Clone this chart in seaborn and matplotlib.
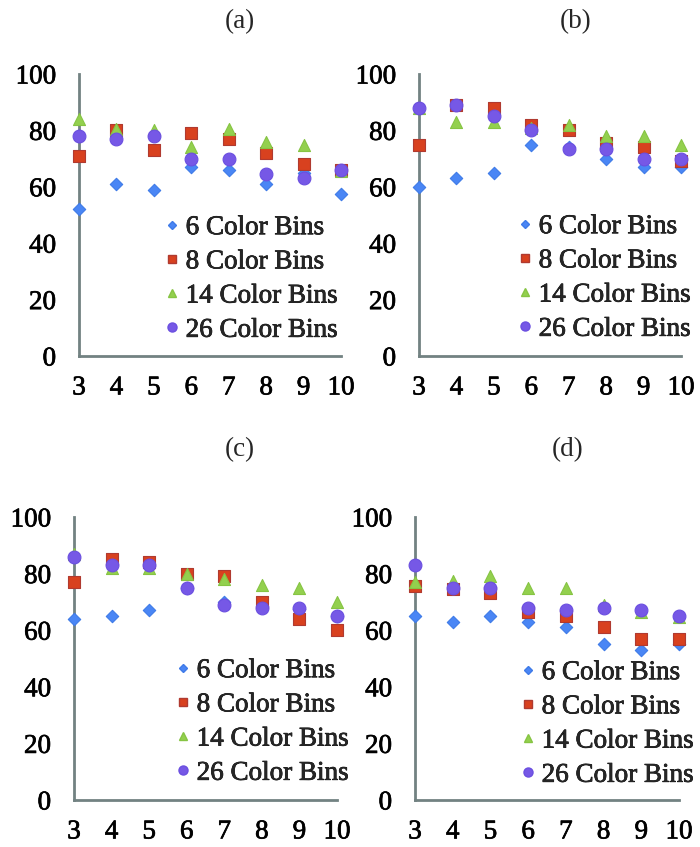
import matplotlib
matplotlib.use("Agg")
import matplotlib.pyplot as plt
from matplotlib.lines import Line2D
import matplotlib.patheffects as pe
import numpy as np
import pandas as pd
import seaborn as sns

# ---------------- data ----------------
x_vals = [3, 4, 5, 6, 7, 8, 9, 10]
series_labels = ["6 Color Bins", "8 Color Bins", "14 Color Bins", "26 Color Bins"]
panel_titles = ["(a)", "(b)", "(c)", "(d)"]
y_ticks = [0, 20, 40, 60, 80, 100]

a_6 = [52, 61, 59, 67, 66, 61, 65, 57.5]
a_8 = [71, 80, 73, 79, 77, 72, 68, 66]
a_14 = [84, 80.5, 80, 74, 80.5, 76, 75, 65.5]
a_26 = [78, 77, 78, 70, 70, 64.5, 63, 66]

b_6 = [60, 63, 65, 75, 74, 70, 67, 67]
b_8 = [75, 89, 88, 82, 80, 75.5, 74, 69]
b_14 = [88, 83, 83, 81, 82, 78, 78, 75]
b_26 = [88, 89, 85, 80, 73.5, 73.5, 70, 70]

c_6 = [64, 65, 67, 75, 70, 68.5, 67.5, 65]
c_8 = [77, 85, 84, 80, 79, 70, 64, 60]
c_14 = [87, 82, 82, 80, 78, 76, 75, 70]
c_26 = [86, 83, 83, 75, 69, 68, 68, 65]

d_6 = [65, 63, 65, 63, 61, 55, 53, 55]
d_8 = [75.5, 74.5, 73, 66.5, 65, 61, 57, 57]
d_14 = [77, 77.5, 79, 75, 75, 69, 66.5, 64.5]
d_26 = [83, 75, 75, 68, 67, 68, 67, 65]

panels = [
    [a_6, a_8, a_14, a_26],
    [b_6, b_8, b_14, b_26],
    [c_6, c_8, c_14, c_26],
    [d_6, d_8, d_14, d_26],
]

# ---------------- style ----------------
sns.set_style("white")
plt.rcParams["font.family"] = ["Liberation Serif", "DejaVu Serif"]
FS = 19.5
heavy = [pe.withStroke(linewidth=0.5, foreground="black")]

W, H = 700, 847
fig = plt.figure(figsize=(W / 100, H / 100), dpi=100)

# axes boxes in pixels: (left, right, top(y=100), bottom(y=0))
boxes = [
    (79, 341, 74, 356),
    (419, 681, 74, 356),
    (74, 337, 517, 800),
    (415, 679, 517, 800),
]
title_pos = [(240, 22), (576, 22), (240, 450), (568, 450)]
legend_pos = [(164, 279), (517, 278), (175, 722), (520, 724)]

colors = ["#4a86f5", "#d8411f", "#93d04e", "#7658e6"]
edges = ["#3f7be8", "#b03a30", "#86c443", "#6b4fe0"]
markers = ["D", "s", "^", "o"]
sizes = [40, 68, 75, 85]
axis_col = "#728282"

for p, vals in enumerate(panels):
    l, r, t, b = boxes[p]
    ax = fig.add_axes([l / W, 1 - b / H, (r - l) / W, (b - t) / H])
    for i, lab in enumerate(series_labels):
        df = pd.DataFrame({"x": x_vals, "y": vals[i]})
        sns.scatterplot(data=df, x="x", y="y", ax=ax, marker=markers[i],
                        color=colors[i], edgecolor=edges[i], linewidth=0.8,
                        s=sizes[i], clip_on=False, zorder=3 + i, legend=False)
    ax.set_xlim(3, 10)
    ax.set_ylim(0, 100)
    ax.set_xticks(x_vals)
    ax.set_yticks(y_ticks)
    ax.set_xlabel("")
    ax.set_ylabel("")
    for s in ["top", "right"]:
        ax.spines[s].set_visible(False)
    for s in ["left", "bottom"]:
        ax.spines[s].set_color(axis_col)
        ax.spines[s].set_linewidth(2.0)
    ax.tick_params(axis="both", direction="out", length=5.5, width=1.8,
                   color=axis_col, labelsize=FS, labelcolor="black")
    ax.tick_params(axis="x", pad=8.5)
    ax.tick_params(axis="y", pad=11)
    for tl in ax.get_xticklabels() + ax.get_yticklabels():
        tl.set_path_effects(heavy)

    handles = [Line2D([], [], linestyle="none", marker=markers[i],
                      markerfacecolor=colors[i], markeredgecolor=edges[i],
                      markersize=[4.5, 6, 6, 6.5][i]) for i in range(4)]
    lx, ly = legend_pos[p]
    leg = ax.legend(handles, series_labels, loc="center left",
                    bbox_to_anchor=(lx / W, 1 - ly / H), bbox_transform=fig.transFigure,
                    frameon=False, fontsize=FS, borderpad=0, handlelength=0.6,
                    handletextpad=0.2, labelspacing=0.34, borderaxespad=0)
    for txt in leg.get_texts():
        txt.set_path_effects(heavy)

    tx, ty = title_pos[p]
    fig.text(tx / W, 1 - ty / H, panel_titles[p], ha="center", va="center",
             fontsize=FS)

fig.savefig("out.png", dpi=100)
